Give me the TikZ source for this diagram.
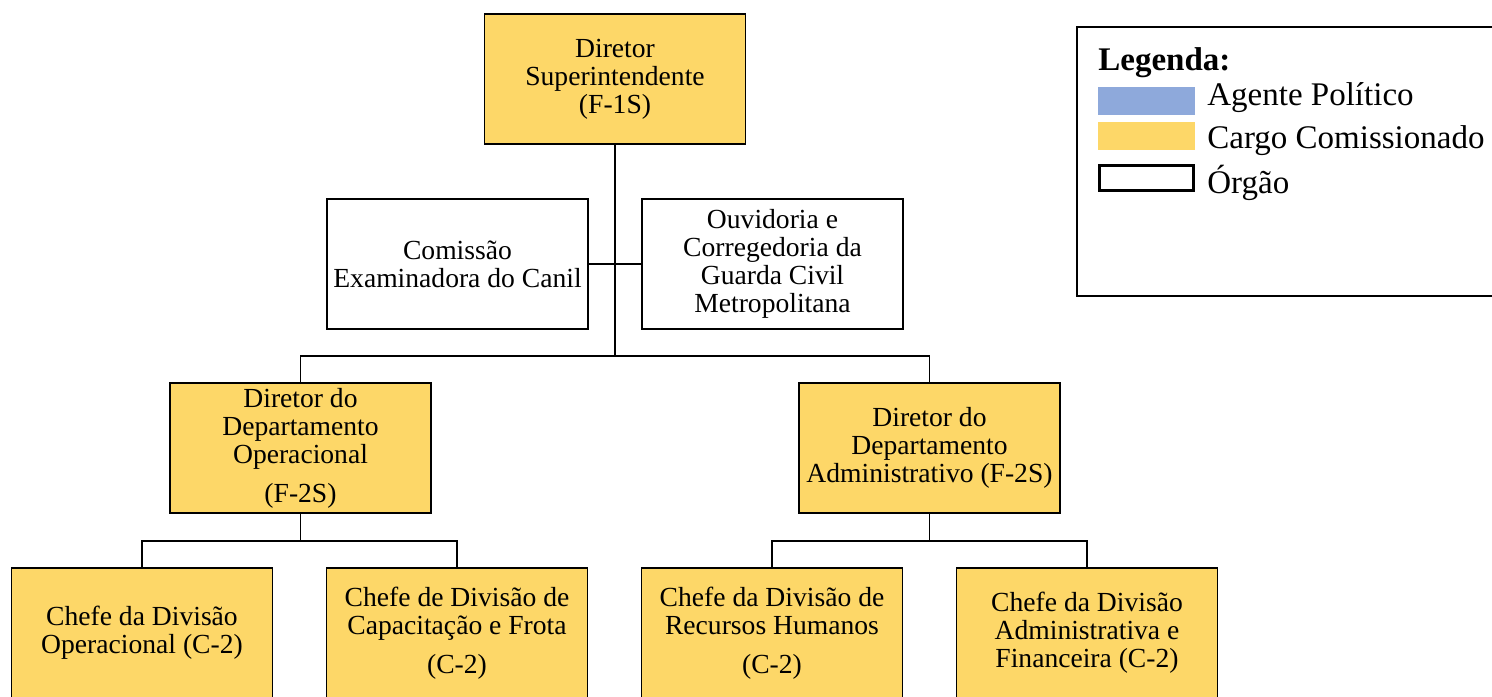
\documentclass[tikz,border=0pt]{standalone}
\usepackage{fontspec}
\setmainfont{Liberation Serif}
\definecolor{cargoyellow}{RGB}{253,215,104}
\definecolor{agenteblue}{RGB}{142,169,219}
\begin{document}
\begin{tikzpicture}[x=0.5pt,y=-0.5pt,
    box/.style={draw, line width=0.9pt, minimum width=130.5pt, minimum height=65pt,
        align=center, inner sep=2pt, font=\fontsize{13.8}{14}\selectfont},
    cargo/.style={box, fill=cargoyellow},
    orgao/.style={box, fill=white},
    link/.style={line width=0.9pt},
    swatch/.style={minimum width=48.5pt, minimum height=14pt, inner sep=0pt},
    legtext/.style={anchor=base west, inner sep=0pt, font=\fontsize{16.5}{18}\selectfont}]
    \useasboundingbox (0,0) rectangle (1492,696);

    % chart
    \node[cargo] (sup) at (615,79) {Diretor\\Superintendente\\(F-1S)};
    \node[orgao] (comis) at (457.5,264) {Comissão\\Examinadora do Canil};
    \node[orgao] (ouv) at (772.5,264) {Ouvidoria e\\Corregedoria da\\Guarda Civil\\Metropolitana};
    \node[cargo] (dop) at (300.5,448) {Diretor do\\Departamento\\Operacional\\[5.5pt](F-2S)};
    \node[cargo] (dadm) at (929.5,448) {Diretor do\\Departamento\\Administrativo (F-2S)};
    \node[cargo] (cop) at (142,633) {Chefe da Divisão\\Operacional (C-2)};
    \node[cargo] (ccap) at (457,633) {Chefe de Divisão de\\Capacitação e Frota\\[5.5pt](C-2)};
    \node[cargo] (crh) at (772,633) {Chefe da Divisão de\\Recursos Humanos\\[5.5pt](C-2)};
    \node[cargo] (cadm) at (1087,633) {Chefe da Divisão\\Administrativa e\\Financeira (C-2)};

    \coordinate (j1) at (615,356);
    \coordinate (j2) at (300.5,541);
    \coordinate (j3) at (929.5,541);

    \draw[link] (sup) -- (j1);
    \draw[link] (comis) -- (ouv);
    \draw[link] (j1) -| (dop.north);
    \draw[link] (j1) -| (dadm.north);
    \draw[link] (dop) -- (j2);
    \draw[link] (j2) -| (cop.north);
    \draw[link] (j2) -| (ccap.north);
    \draw[link] (dadm) -- (j3);
    \draw[link] (j3) -| (crh.north);
    \draw[link] (j3) -| (cadm.north);

    % legend
    \draw[line width=0.6pt] (1077,27) rectangle (1510,296);
    \node[legtext, font=\fontsize{16.5}{18}\selectfont\bfseries] (legtitle) at (1098,70) {Legenda:};
    \node[swatch, fill=agenteblue] (swblue) at (1146.5,101) {};
    \node[swatch, fill=cargoyellow] (swyellow) at (1146.5,136) {};
    \node[swatch, draw, line width=1.2pt, minimum width=47pt, minimum height=12.5pt] (swbox) at (1146.5,178) {};
    \node[legtext] (legblue) at (1207,105) {Agente Político};
    \node[legtext] (legyellow) at (1207,148) {Cargo Comissionado};
    \node[legtext] (legbox) at (1207,193) {Órgão};
\end{tikzpicture}
\end{document}
